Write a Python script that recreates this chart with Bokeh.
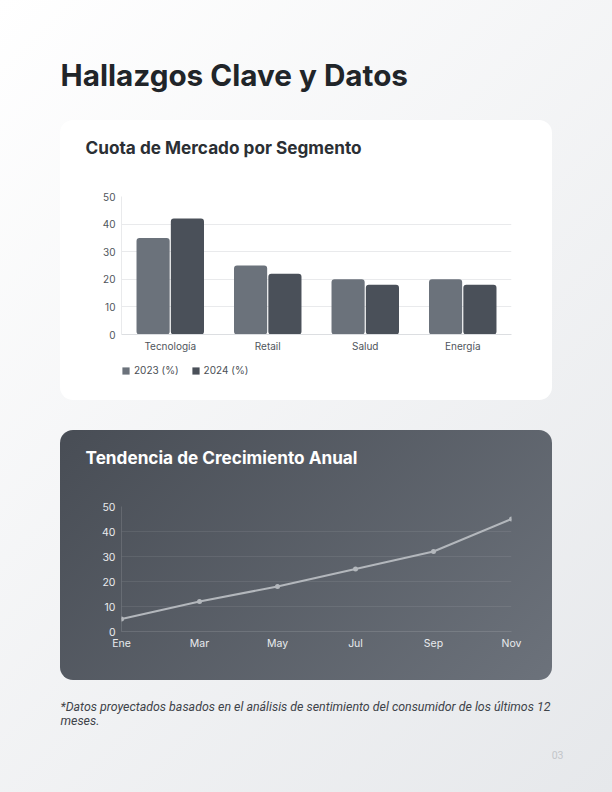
from bokeh.plotting import figure
from bokeh.layouts import column
from bokeh.models import (Range1d, FactorRange, Legend, LegendItem,
                          FixedTicker, ColumnDataSource)
from bokeh.transform import dodge
from bokeh.core.properties import value
from bokeh.embed import file_html
from bokeh.resources import INLINE

# ---------------- data ----------------
page_title = "Hallazgos Clave y Datos"
bar_title = "Cuota de Mercado por Segmento"
line_title = "Tendencia de Crecimiento Anual"
segments = ["Tecnología", "Retail", "Salud", "Energía"]
share_2023 = [35, 25, 20, 20]
share_2024 = [42, 22, 18, 18]
series_names = ["2023 (%)", "2024 (%)"]
months = ["Ene", "Mar", "May", "Jul", "Sep", "Nov"]
growth = [5, 12, 18, 25, 32, 45]
y_ticks = [0, 10, 20, 30, 40, 50]
footnote_lines = [
    "*Datos proyectados basados en el análisis de sentimiento del consumidor de los últimos 12",
    "meses.",
]
page_number = "03"

# ---------------- styles ----------------
TITLE_FONT = "Inter"
TICK_FONT = "Inter"
NOTE_FONT = "Roboto"
C2023 = "#6b727b"
C2024 = "#4a5059"
PAGE_W = 612
CARD_W = 492


def text_figure(w, h):
    """A figure whose frame covers the whole canvas; y grows downward."""
    p = figure(width=w, height=h, x_range=Range1d(0, w), y_range=Range1d(h, 0),
               x_axis_type=None, y_axis_type=None, toolbar_location=None,
               output_backend="svg", min_border=0)
    p.outline_line_color = None
    p.background_fill_color = None
    p.border_fill_color = None
    return p


def style_axes(p, label_color, font_size="10px"):
    for ax in list(p.xaxis) + list(p.yaxis):
        ax.major_tick_line_color = None
        ax.minor_tick_line_color = None
        ax.major_tick_out = 0
        ax.major_tick_in = 0
        ax.minor_tick_out = 0
        ax.minor_tick_in = 0
        ax.major_label_text_font = TICK_FONT
        ax.major_label_text_font_size = font_size
        ax.major_label_text_color = label_color
        ax.major_label_standoff = 6


def wrap(p):
    return column(p, spacing=0)


# ---------------- header ----------------
head = text_figure(PAGE_W, 120)
head.text(x=[60], y=[74], text=[page_title], text_font=value(TITLE_FONT),
          text_font_size="29.7px", text_font_style="bold", text_color="#212529",
          text_baseline="alphabetic")

# ---------------- bar card ----------------
t1 = text_figure(CARD_W, 68)
t1.text(x=[25], y=[27], text=[bar_title], text_font=value(TITLE_FONT),
        text_font_size="17.2px", text_font_style="bold", text_color="#2b2f34",
        text_baseline="alphabetic")

bar = figure(width=CARD_W, height=170, x_range=FactorRange(factors=segments),
             y_range=Range1d(0, 50), toolbar_location=None, output_backend="svg",
             min_border_left=61, min_border_right=41, min_border_top=8,
             min_border_bottom=24)
bar.outline_line_color = None
bar.background_fill_color = None
bar.border_fill_color = None

src = ColumnDataSource(dict(segment=segments, y2023=share_2023, y2024=share_2024))
bar.vbar(x=dodge("segment", -0.176, range=bar.x_range), top="y2023",
         width=0.34, source=src, fill_color=C2023, line_color=None,
         border_radius=3)
bar.vbar(x=dodge("segment", 0.176, range=bar.x_range), top="y2024",
         width=0.34, source=src, fill_color=C2024, line_color=None,
         border_radius=3)

bar.xgrid.visible = False
bar.ygrid.ticker = FixedTicker(ticks=y_ticks)
bar.ygrid.grid_line_color = "#e9eaec"
bar.yaxis.ticker = FixedTicker(ticks=y_ticks)
style_axes(bar, "#4f555c")
bar.yaxis.axis_line_color = "#e9eaec"
bar.xaxis.axis_line_color = "#dcdee1"
bar.xaxis.major_label_standoff = 5

# legend strip: a library legend whose (hidden) renderers carry the same series
lg = text_figure(CARD_W, 42)
lsrc_bar = ColumnDataSource(dict(i=list(range(len(segments))),
                                 y2023=share_2023, y2024=share_2024))
d23 = lg.vbar(x="i", top="y2023", width=0.3, source=lsrc_bar,
              fill_color=C2023, line_color=None, visible=False)
d24 = lg.vbar(x="i", top="y2024", width=0.3, source=lsrc_bar,
              fill_color=C2024, line_color=None, visible=False)
legend = Legend(items=[LegendItem(label=series_names[0], renderers=[d23]),
                       LegendItem(label=series_names[1], renderers=[d24])],
                location=(61, 24), orientation="horizontal",
                glyph_width=9, glyph_height=9, label_height=9,
                label_text_font=TICK_FONT, label_text_font_size="10px",
                label_text_color="#4a4f55", label_standoff=4, spacing=12,
                padding=0, margin=0, border_line_color=None,
                background_fill_color=None, inactive_fill_alpha=0)
lg.add_layout(legend)

card1 = column(wrap(t1), wrap(bar), wrap(lg), spacing=0, margin=(0, 0, 0, 60),
               styles={"background": "#ffffff", "border-radius": "13px"})

# ---------------- line card ----------------
t2 = text_figure(CARD_W, 68)
t2.text(x=[25], y=[27], text=[line_title], text_font=value(TITLE_FONT),
        text_font_size="17.2px", text_font_style="bold", text_color="#ffffff",
        text_baseline="alphabetic")

xs = list(range(len(months)))
line = figure(width=CARD_W, height=182, x_range=Range1d(0, len(months) - 1),
              y_range=Range1d(0, 50), toolbar_location=None, output_backend="svg",
              min_border_left=61, min_border_right=41, min_border_top=8,
              min_border_bottom=49)
line.outline_line_color = None
line.background_fill_color = None
line.border_fill_color = None

lsrc = ColumnDataSource(dict(x=xs, month=months, growth=growth))
line.line(x="x", y="growth", source=lsrc, line_color="#b3b7bc", line_width=2)
line.scatter(x="x", y="growth", source=lsrc, size=5, fill_color="#b3b7bc",
             line_color=None)

line.xgrid.visible = False
line.ygrid.ticker = FixedTicker(ticks=y_ticks)
line.ygrid.grid_line_color = "#ffffff"
line.ygrid.grid_line_alpha = 0.08
line.yaxis.ticker = FixedTicker(ticks=y_ticks)
line.xaxis.ticker = FixedTicker(ticks=xs)
line.xaxis.major_label_overrides = {i: m for i, m in zip(xs, months)}
style_axes(line, "#e9ebee", "10.5px")
for ax in list(line.xaxis) + list(line.yaxis):
    ax.axis_line_color = "#ffffff"
    ax.axis_line_alpha = 0.12
line.xaxis.major_label_standoff = 5

card2 = column(wrap(t2), wrap(line), spacing=0, margin=(30, 0, 0, 60),
               styles={"background": "linear-gradient(135deg, #484d55 0%, #6c727b 100%)",
                       "border-radius": "13px"})

# ---------------- footer ----------------
foot = text_figure(PAGE_W, 112)
foot.text(x=[60, 60], y=[26, 40], text=footnote_lines, text_font=value(NOTE_FONT),
          text_font_size="12.4px", text_font_style="italic", text_color="#3e4349",
          text_baseline="alphabetic")
foot.text(x=[563], y=[74], text=[page_number], text_align="right",
          text_font=value(NOTE_FONT), text_font_size="10.5px", text_color="#c3c6ca",
          text_baseline="alphabetic")

page = column(wrap(head), card1, card2, wrap(foot), spacing=0,
              styles={"background": "linear-gradient(135deg, #ffffff 0%, #e6e8eb 100%)"})

open("out.html", "w").write(file_html(page, INLINE))
